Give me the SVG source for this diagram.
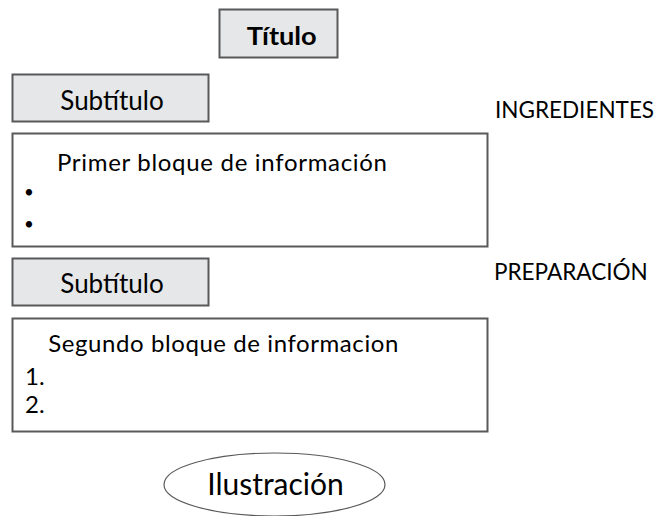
<svg xmlns="http://www.w3.org/2000/svg" width="657" height="516" viewBox="0 0 657 516">
<style>
text{font-family:Lato,"Open Sans","Liberation Sans",sans-serif;fill:#000}
.hdr{fill:#e6e7e8;stroke:#58595b;stroke-width:2}
.blk{fill:#fff;stroke:#58595b;stroke-width:2}
.t{font-size:24px}
.c{font-size:22.5px}
.s{font-size:26px}
.b{font-size:17px}
</style>
<rect width="657" height="516" fill="#fff"/>
<g id="titulo">
<rect class="hdr" x="219.5" y="9.5" width="118" height="48"/>
<text x="246.7" y="45" font-size="25.5" font-weight="bold" textLength="70" lengthAdjust="spacingAndGlyphs">Título</text>
</g>
<g id="subtitulo1">
<rect class="hdr" x="12.5" y="74.5" width="196" height="47"/>
<text class="s" x="112" y="109.5" text-anchor="middle">Subtítulo</text>
</g>
<g id="ingredientes">
<text class="c" x="495" y="118.3">INGREDIENTES</text>
</g>
<g id="bloque1">
<rect class="blk" x="12.5" y="133.5" width="475" height="113"/>
<text class="t" x="57" y="170.5" textLength="330">Primer bloque de información</text>
<text class="b" x="29" y="198.3" text-anchor="middle">•</text>
<text class="b" x="29" y="229.9" text-anchor="middle">•</text>
</g>
<g id="subtitulo2">
<rect class="hdr" x="12.5" y="258.5" width="196" height="47"/>
<text class="s" x="112" y="293.3" text-anchor="middle">Subtítulo</text>
</g>
<g id="preparacion">
<text class="c" x="494" y="280">PREPARACIÓN</text>
</g>
<g id="bloque2">
<rect class="blk" x="12.5" y="318.5" width="475" height="113"/>
<text class="t" x="48.3" y="351.7" textLength="350">Segundo bloque de informacion</text>
<text class="t" x="25" y="385">1.</text>
<text class="t" x="25" y="413.3">2.</text>
</g>
<g id="ilustracion">
<ellipse cx="274.5" cy="484.5" rx="110.5" ry="31.5" fill="#fff" stroke="#58595b" stroke-width="1.2"/>
<text x="275.5" y="495" text-anchor="middle" font-size="30">Ilustración</text>
</g>
<g id="connectors"></g>
</svg>
